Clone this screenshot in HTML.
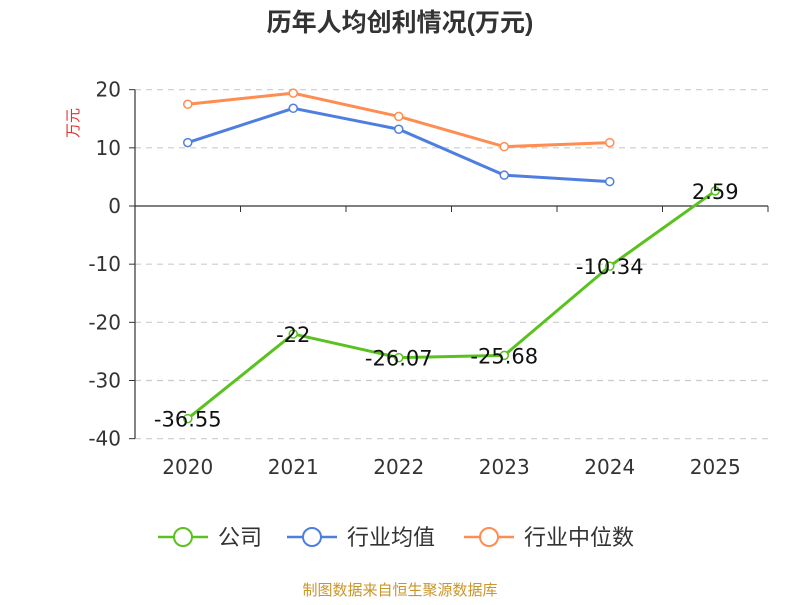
<!DOCTYPE html>
<html><head><meta charset="utf-8"><style>
body{margin:0;background:#fff;}
svg{font-family:"Liberation Sans","Noto Sans CJK SC",sans-serif;}
.num{font-family:"DejaVu Sans","Liberation Sans",sans-serif;}
</style></head><body>
<svg id="chart" width="800" height="600" viewBox="0 0 800 600">
<text x="400" y="31" text-anchor="middle" font-size="25" font-weight="bold" fill="#333">历年人均创利情况(万元)</text>
<text x="0" y="0" transform="translate(78,123) rotate(-90)" text-anchor="middle" font-size="15" fill="#e0312f">万元</text>
<g id="grid"></g><g id="axes"></g><g id="series"></g>
<g>
 <g><line x1="158" y1="537" x2="208" y2="537" stroke="#5ac21e" stroke-width="2.5"/><circle cx="183" cy="537" r="9" fill="#fff" stroke="#5ac21e" stroke-width="2"/><text x="218" y="545" font-size="22" fill="#333">公司</text></g>
 <g><line x1="287" y1="537" x2="337" y2="537" stroke="#4e7fe0" stroke-width="2.5"/><circle cx="312" cy="537" r="9" fill="#fff" stroke="#4e7fe0" stroke-width="2"/><text x="347" y="545" font-size="22" fill="#333">行业均值</text></g>
 <g><line x1="464" y1="537" x2="514" y2="537" stroke="#ff8c50" stroke-width="2.5"/><circle cx="489" cy="537" r="9" fill="#fff" stroke="#ff8c50" stroke-width="2"/><text x="524" y="545" font-size="22" fill="#333">行业中位数</text></g>
</g>
<text x="400" y="595" text-anchor="middle" font-size="15" fill="#c9962a">制图数据来自恒生聚源数据库</text>
</svg>
<script>
const categories=["2020","2021","2022","2023","2024","2025"];
const companyValues=[-36.55,-22,-26.07,-25.68,-10.34,2.59];
const avgValues=[10.9,16.8,13.2,5.3,4.2];
const medianValues=[17.5,19.4,15.4,10.2,10.9];
const yTicks=[20,10,0,-10,-20,-30,-40];
const NS="http://www.w3.org/2000/svg";
const left=135,right=768,y0=206,pxPer=(439-90)/60;
const band=(right-left)/categories.length;
const xs=i=>left+band*(i+0.5);
const ys=v=>y0-v*pxPer;
function mk(tag,attrs,parent,txt){const e=document.createElementNS(NS,tag);for(const k in attrs)e.setAttribute(k,attrs[k]);if(txt!==undefined)e.textContent=txt;document.getElementById(parent).appendChild(e);return e;}
yTicks.forEach(t=>{
 if(t!==0){const g=mk("line",{x1:left,x2:right,y1:ys(t),y2:ys(t),stroke:"#ccc","stroke-dasharray":"6,5","stroke-width":1.2},"grid");
 
 }
 const l=mk("text",{x:left-14,y:ys(t)+7,"text-anchor":"end","font-size":20,fill:"#333","class":"num"},"axes",String(t));
 
 
 mk("line",{x1:left-6,x2:left,y1:ys(t),y2:ys(t),stroke:"#333"},"axes");
});
const ya=mk("line",{x1:left,x2:left,y1:ys(20),y2:ys(-40),stroke:"#333","stroke-width":1.2},"axes");


const xa=mk("line",{x1:left,x2:right,y1:y0,y2:y0,stroke:"#333","stroke-width":1.2},"axes");


for(let i=0;i<=categories.length;i++)mk("line",{x1:left+band*i,x2:left+band*i,y1:y0,y2:y0+6,stroke:"#333"},"axes");
categories.forEach((c,i)=>{const t=mk("text",{x:xs(i),y:474,"text-anchor":"middle","font-size":20,fill:"#333","class":"num"},"axes",c);
 
 });
function series(vals,color,name,labels){
 const pts=vals.map((v,i)=>xs(i)+","+ys(v)).join(" ");
 const p=mk("polyline",{points:pts,fill:"none",stroke:color,"stroke-width":3},"series");
 
 
 vals.forEach((v,i)=>{
  const c=mk("circle",{cx:xs(i),cy:ys(v),r:4,fill:"#fff",stroke:color,"stroke-width":1.5},"series");
  
  
  if(labels){const t=mk("text",{x:xs(i),y:ys(v)+8,"text-anchor":"middle","font-size":21,fill:"#111","class":"num"},"series",String(v));
   
   }
 });
}
series(medianValues,"#ff8c50","industry-median",false);
series(avgValues,"#4e7fe0","industry-avg",false);
series(companyValues,"#5ac21e","company",true);
</script>
</body></html>
